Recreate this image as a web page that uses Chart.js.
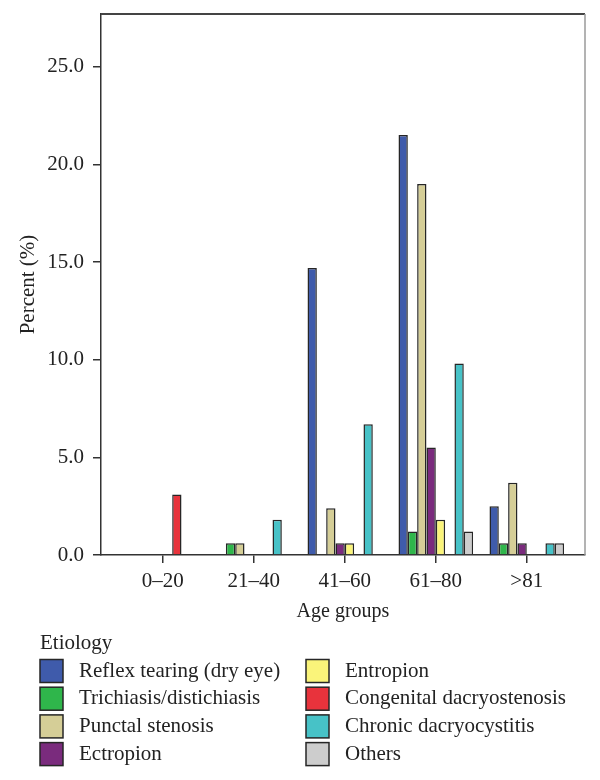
<!DOCTYPE html>
<html>
<head>
<meta charset="utf-8">
<script src="https://cdn.jsdelivr.net/npm/chart.js@4.4.1/dist/chart.umd.min.js"></script>
<style>
  html, body { margin: 0; padding: 0; background: #ffffff; }
  #wrap { position: relative; width: 600px; height: 780px; }
</style>
</head>
<body>
<div id="wrap"><canvas id="c"></canvas></div>
<script>
// ---- data ----
const categories = ['0–20', '21–40', '41–60', '61–80', '>81'];
const seriesNames = [
  'Reflex tearing (dry eye)', 'Trichiasis/distichiasis', 'Punctal stenosis', 'Ectropion',
  'Entropion', 'Congenital dacryostenosis', 'Chronic dacryocystitis', 'Others'
];
const reflexTearing = [0, 0, 14.7, 21.5, 2.5];
const trichiasis    = [0, 0.6, 0, 1.2, 0.6];
const punctal       = [0, 0.6, 2.4, 19.0, 3.7];
const ectropion     = [0, 0, 0.6, 5.5, 0.6];
const entropion     = [0, 0, 0.6, 1.8, 0];
const congenital    = [3.1, 0, 0, 0, 0];
const chronic       = [0, 1.8, 6.7, 9.8, 0.6];
const others        = [0, 0, 0, 1.2, 0.6];
const yTickValues   = [0, 5, 10, 15, 20, 25];
const yAxisTitle = 'Percent (%)';
const xAxisTitle = 'Age groups';
const legendTitle = 'Etiology';

// ---- styles ----
const seriesValues = [reflexTearing, trichiasis, punctal, ectropion, entropion, congenital, chronic, others];
const seriesColors = ['#3F5BAB', '#2FB64B', '#D5CE97', '#7A2B7D', '#FAF47A', '#E8333C', '#47C2C7', '#CDCDCD'];
const FONT = '"Liberation Serif", "DejaVu Serif", serif';
const TEXT = '#222222';

const datasets = seriesNames.map((name, k) => ({
  label: name,
  data: seriesValues[k].map((v, i) => ({ x: i, y: v })),
  backgroundColor: seriesColors[k],
  borderColor: '#262626',
  borderWidth: 1.5,
  categoryPercentage: 0.82,
  barPercentage: 1.0
}));

const framePlugin = {
  id: 'frame',
  afterDraw(chart) {
    const { ctx, chartArea: a } = chart;
    ctx.save();
    ctx.strokeStyle = '#444444';
    ctx.lineWidth = 2;
    ctx.beginPath();
    ctx.moveTo(a.left, a.top);
    ctx.lineTo(a.right, a.top);
    ctx.stroke();
    ctx.strokeStyle = '#9a9a9a';
    ctx.lineWidth = 1.5;
    ctx.beginPath();
    ctx.moveTo(a.right, a.top);
    ctx.lineTo(a.right, a.bottom);
    ctx.stroke();
    ctx.restore();
  }
};

const legendPlugin = {
  id: 'colLegend',
  afterDraw(chart) {
    const { ctx } = chart;
    const ds = chart.data.datasets;
    ctx.save();
    ctx.font = '21px ' + FONT;
    ctx.fillStyle = TEXT;
    ctx.textBaseline = 'middle';
    ctx.textAlign = 'left';
    ctx.fillText(legendTitle, 40, 643);
    const colX = [40, 306];
    const rowY0 = 671, pitch = 27.7, box = 23;
    ds.forEach((d, k) => {
      const col = Math.floor(k / 4), row = k % 4;
      const x = colX[col], y = rowY0 + row * pitch;
      ctx.fillStyle = d.backgroundColor;
      ctx.fillRect(x, y - box / 2, box, box);
      ctx.strokeStyle = '#262626';
      ctx.lineWidth = 1.5;
      ctx.strokeRect(x, y - box / 2, box, box);
      ctx.fillStyle = TEXT;
      ctx.fillText(d.label, x + 39, y);
    });
    ctx.restore();
  }
};

new Chart(document.getElementById('c'), {
  type: 'bar',
  data: { datasets },
  options: {
    responsive: true,
    maintainAspectRatio: false,
    animation: false,
    layout: { padding: { left: 0, top: 14, right: 15, bottom: 155 } },
    plugins: { legend: { display: false }, tooltip: { enabled: false } },
    scales: {
      x: {
        type: 'linear',
        offset: false,
        min: -0.68,
        max: 4.64,
        afterBuildTicks: s => { s.ticks = categories.map((c, i) => ({ value: i })); },
        afterFit: s => { s.height = 70; s.paddingLeft = 0; s.paddingRight = 0; },
        ticks: {
          callback: v => categories[v],
          autoSkip: false, maxRotation: 0, padding: 6,
          color: TEXT, font: { family: FONT, size: 21 }
        },
        grid: { offset: false, drawOnChartArea: false, drawTicks: true, tickLength: 8, color: '#333333', lineWidth: 1.5 },
        border: { display: true, color: '#333333', width: 1.5 },
        title: { display: true, text: xAxisTitle, color: TEXT, font: { family: FONT, size: 20 }, padding: { top: 0, bottom: 1 } }
      },
      y: {
        min: 0,
        max: 27.7,
        afterBuildTicks: s => { s.ticks = yTickValues.map(v => ({ value: v })); },
        afterFit: s => { s.width = 101; s.paddingTop = 0; s.paddingBottom = 0; },
        ticks: {
          callback: v => Number(v).toFixed(1),
          padding: 9, color: TEXT, font: { family: FONT, size: 21 }
        },
        grid: { drawOnChartArea: false, drawTicks: true, tickLength: 8, color: '#333333', lineWidth: 1.5 },
        border: { display: true, color: '#333333', width: 1.5 },
        title: { display: true, text: yAxisTitle, color: TEXT, font: { family: FONT, size: 21 }, padding: { top: 16, bottom: 0 } }
      }
    }
  },
  plugins: [framePlugin, legendPlugin]
});
</script>
</body>
</html>
